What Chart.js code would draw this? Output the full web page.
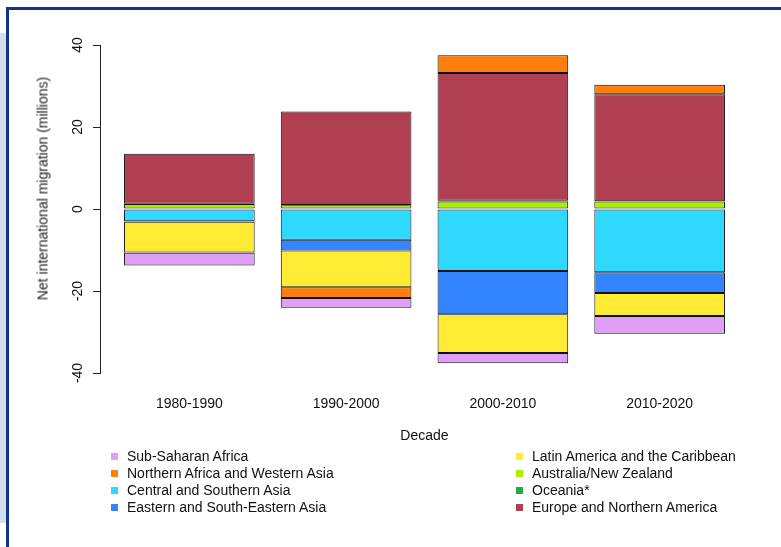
<!DOCTYPE html>
<html>
<head>
<meta charset="utf-8">
<script src="https://cdn.jsdelivr.net/npm/chart.js@4/dist/chart.umd.min.js"></script>
<style>
  body { margin: 0; background: #fff; font-family: "Liberation Sans", Arial, sans-serif; color: #111; }
  #wrap { position: relative; width: 781px; height: 547px; overflow: hidden; }
  .strip { position: absolute; left: 0; top: 33px; width: 6px; height: 490px; background: #d3deeb; }
  .edge-left { position: absolute; left: 6px; top: 7px; width: 3px; height: 540px; background: #14338a; }
  .edge-top { position: absolute; left: 6px; top: 7px; width: 775px; height: 3px; background: #14338a; }
  #chart { position: absolute; left: 0; top: 0; }
  #ytitle { position: absolute; left: -107px; top: 180px; width: 300px; height: 17px; line-height: 17px;
            text-align: center; font-size: 14px; color: #222; transform: rotate(-90deg); white-space: nowrap; }
  .leg { position: absolute; font-size: 14px; line-height: 17px; white-space: nowrap; }
  .leg i { position: absolute; left: -16px; top: 5px; width: 7px; height: 7px; }
</style>
</head>
<body>
<div id="wrap">
  <div class="strip"></div>
  <div class="edge-left"></div>
  <div class="edge-top"></div>
  <canvas id="chart" width="781" height="547"></canvas>
  <div id="ytitle">Net international migration (millions)</div>
  <div id="legend"></div>
</div>
<script>
const decades = ["1980-1990", "1990-2000", "2000-2010", "2010-2020"];

// net migration per region, millions
const subSaharanAfrica = [-3.1, -2.4, -2.5, -4.3];
const northernAfricaWesternAsia = [-0.1, -2.6, 4.3, 2.3];
const centralSouthernAsia = [-3.0, -7.5, -15.1, -15.4];
const easternSouthEasternAsia = [-0.1, -2.6, -10.6, -5.1];
const latinAmericaCaribbean = [-7.5, -9.0, -9.4, -5.6];
const australiaNewZealand = [1.2, 0.9, 1.8, 1.8];
const oceania = [0.1, 0.1, 0.2, 0.1];
const europeNorthernAmerica = [12.2, 22.8, 31.2, 26.1];

const yTicks = [-40, -20, 0, 20, 40];

const regions = [
  { name: "Sub-Saharan Africa", data: subSaharanAfrica, color: "#df9ff7" },
  { name: "Northern Africa and Western Asia", data: northernAfricaWesternAsia, color: "#ff7f0e" },
  { name: "Central and Southern Asia", data: centralSouthernAsia, color: "#2ed8ff" },
  { name: "Eastern and South-Eastern Asia", data: easternSouthEasternAsia, color: "#3385ff" },
  { name: "Latin America and the Caribbean", data: latinAmericaCaribbean, color: "#ffeb33" },
  { name: "Australia/New Zealand", data: australiaNewZealand, color: "#aaee00" },
  { name: "Oceania*", data: oceania, color: "#22aa44" },
  { name: "Europe and Northern America", data: europeNorthernAmerica, color: "#b03f52" },
];

// order in which the segments stack outward from zero
const stackOrder = [2, 3, 4, 5, 6, 7, 1, 0];

// R barplot layout: bars of width 1, gap 0.2
const barX = i => 0.7 + 1.2 * i;

const datasets = stackOrder.map(k => ({
  label: regions[k].name,
  data: regions[k].data.map((v, i) => ({ x: barX(i), y: v })),
  backgroundColor: regions[k].color,
  borderColor: "#111",
  borderWidth: 1,
  borderSkipped: false,
  categoryPercentage: 1,
  barPercentage: 1 / 1.2,
}));

const font = { family: "'Liberation Sans', Arial, sans-serif", size: 14 };

new Chart(document.getElementById("chart"), {
  type: "bar",
  data: { datasets },
  options: {
    responsive: false,
    animation: false,
    layout: { padding: { top: 45, right: 32, bottom: 102, left: 0 } },
    plugins: { legend: { display: false }, tooltip: { enabled: false } },
    scales: {
      x: {
        type: "linear",
        stacked: true,
        offset: false,
        min: 0.016,
        max: 4.984,
        afterFit: s => { s.height = 72; },
        afterBuildTicks: s => { s.ticks = decades.map((_, i) => ({ value: barX(i) })); },
        ticks: {
          autoSkip: false,
          maxRotation: 0,
          padding: 23,
          color: "#111",
          font,
          callback: (v, i) => decades[i],
        },
        grid: { display: false, drawTicks: false },
        border: { display: false },
        title: { display: true, text: "Decade", color: "#111", font, padding: 0 },
      },
      y: {
        stacked: true,
        min: yTicks[0],
        max: yTicks[yTicks.length - 1],
        afterFit: s => { s.width = 100; },
        afterBuildTicks: s => { s.ticks = yTicks.map(v => ({ value: v })); },
        ticks: {
          minRotation: 90,
          maxRotation: 90,
          crossAlign: "center",
          padding: 5,
          color: "#111",
          font,
        },
        grid: { drawOnChartArea: false, drawTicks: true, tickLength: 7, color: "#222" },
        border: { display: true, color: "#222", width: 1 },
      },
    },
  },
});

// two-column legend, same order as the reference
const legend = document.getElementById("legend");
regions.forEach((r, k) => {
  const col = Math.floor(k / 4), row = k % 4;
  const el = document.createElement("div");
  el.className = "leg";
  el.style.left = (col ? 532 : 127) + "px";
  el.style.top = (448 + row * 17) + "px";
  el.innerHTML = `<i style="background:${r.color}"></i>${r.name}`;
  legend.appendChild(el);
});
</script>
</body>
</html>
